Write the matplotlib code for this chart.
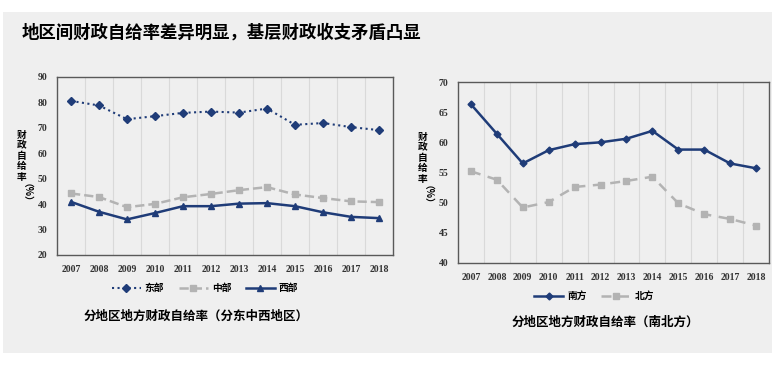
import matplotlib
matplotlib.use("Agg")
import matplotlib.pyplot as plt
from matplotlib.patches import Rectangle
import numpy as np

plt.rcParams['font.family'] = ['Noto Sans CJK SC', 'DejaVu Sans']

# data
years = ['2007', '2008', '2009', '2010', '2011', '2012',
         '2013', '2014', '2015', '2016', '2017', '2018']
east = [80.6, 78.8, 73.4, 74.6, 75.9, 76.4, 76.0, 77.6, 71.2, 71.9, 70.3, 69.1]
middle = [44.2, 42.8, 38.8, 40.1, 42.7, 44.0, 45.5, 46.7, 43.8, 42.4, 41.1, 40.8]
west = [40.9, 37.0, 34.0, 36.5, 39.2, 39.2, 40.2, 40.4, 39.2, 36.8, 35.0, 34.5]
south = [66.3, 61.4, 56.5, 58.7, 59.7, 60.0, 60.6, 61.9, 58.8, 58.8, 56.5, 55.7]
north = [55.2, 53.8, 49.2, 50.1, 52.6, 53.0, 53.6, 54.3, 49.9, 48.1, 47.3, 46.2]

W, H = 780, 366
blue = '#1f3c78'
gray = '#b3b3b3'

fig = plt.figure(figsize=(W / 100, H / 100), dpi=100)
fig.patch.set_facecolor('white')
fig.patches.append(Rectangle((3 / W, 1 - 353 / H), 769 / W, 341 / H,
                             transform=fig.transFigure, facecolor='#efefef',
                             edgecolor='none', zorder=-10))

fig.text(22 / W, 1 - 33 / H, '地区间财政自给率差异明显，基层财政收支矛盾凸显',
         fontsize=12.5, fontweight='bold', va='center', ha='left')


def px_axes(x0, y0, x1, y1):
    return fig.add_axes([x0 / W, 1 - y1 / H, (x1 - x0) / W, (y1 - y0) / H])


def style(ax, ticks):
    x = np.arange(len(years))
    ax.set_facecolor('none')
    ax.set_xlim(-0.5, len(years) - 0.5)
    ax.set_xticks(x)
    ax.set_xticklabels(years)
    ax.set_yticks(ticks)
    ax.set_ylim(ticks[0], ticks[-1])
    for b in np.arange(0.5, len(years) - 1, 1):
        ax.axvline(b, color='#d9d9d9', lw=0.8, zorder=0)
    for s in ax.spines.values():
        s.set_color('#595959')
        s.set_linewidth(1.0)
    ax.tick_params(length=0, pad=7)
    for lab in ax.get_xticklabels() + ax.get_yticklabels():
        lab.set_family('Liberation Serif')
        lab.set_fontweight('bold')
        lab.set_fontsize(7)
        lab.set_color('#333333')


def ylabel(xp, ytop):
    # stacked characters, then the rotated unit below them
    t = fig.text(xp / W, 1 - ytop / H, '财\n政\n自\n给\n率', fontsize=7,
                 fontweight='bold', ha='center', va='top', linespacing=1.05)
    fig.text(xp / W, 1 - (ytop + 53) / H, '（%）', fontsize=7, fontweight='bold',
             ha='center', va='top', rotation=270)


x = np.arange(len(years))

# left chart
ax1 = px_axes(57, 77, 393, 255)
l1, = ax1.plot(x, east, ':', color=blue, lw=1.5, marker='D', ms=4, label='东部')
l2, = ax1.plot(x, middle, '--', color=gray, lw=1.8, marker='s', ms=5, label='中部')
l3, = ax1.plot(x, west, '-', color=blue, lw=1.8, marker='^', ms=5, label='西部')
style(ax1, [20, 30, 40, 50, 60, 70, 80, 90])
ylabel(22, 130)
fig.legend(handles=[l1, l2, l3], loc='center', bbox_to_anchor=(205 / W, 1 - 288 / H),
           ncol=3, frameon=False, prop={'size': 7, 'weight': 'bold'},
           handlelength=3, columnspacing=1.5, handletextpad=0.4)
fig.text(196 / W, 1 - 316 / H, '分地区地方财政自给率（分东中西地区）',
         fontsize=9, fontweight='bold', ha='center', va='center')

# right chart
ax2 = px_axes(458, 82, 769, 263)
m1, = ax2.plot(x, south, '-', color=blue, lw=1.8, marker='D', ms=3.5, label='南方')
m2, = ax2.plot(x, north, '--', color=gray, lw=1.8, marker='s', ms=5, label='北方',
               dashes=(4, 3))
style(ax2, [40, 45, 50, 55, 60, 65, 70])
ylabel(423, 132)
fig.legend(handles=[m1, m2], loc='center', bbox_to_anchor=(594 / W, 1 - 296 / H),
           ncol=2, frameon=False, prop={'size': 7, 'weight': 'bold'},
           handlelength=3, columnspacing=1.5, handletextpad=0.4)
fig.text(605 / W, 1 - 322 / H, '分地区地方财政自给率（南北方）',
         fontsize=9, fontweight='bold', ha='center', va='center')

fig.savefig('out.png', dpi=100, facecolor='white')
